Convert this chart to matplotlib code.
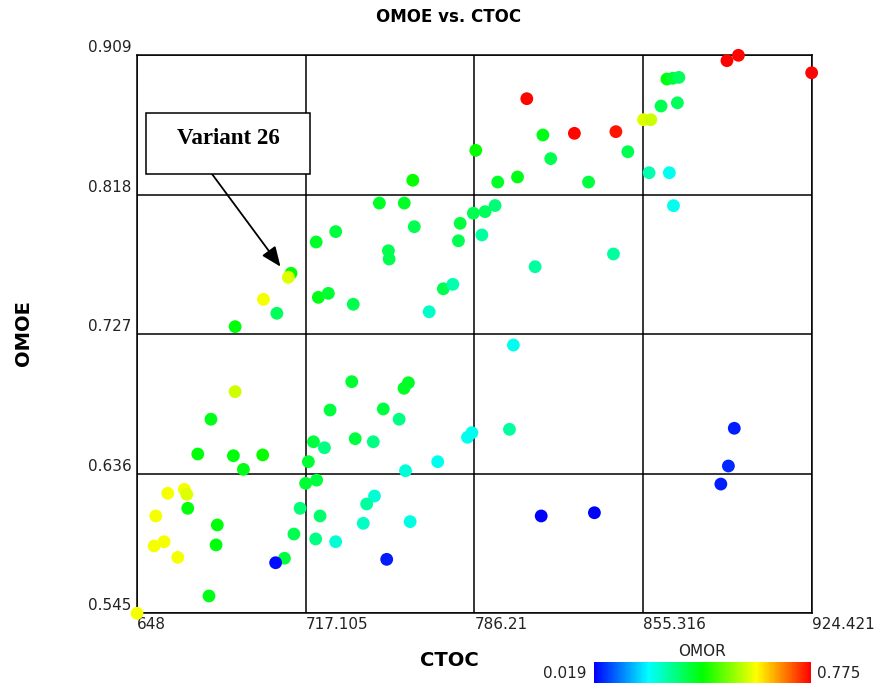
import matplotlib
matplotlib.use("Agg")
import matplotlib.pyplot as plt
import numpy as np
from matplotlib.colors import LinearSegmentedColormap, Normalize
from matplotlib.colorbar import ColorbarBase
from matplotlib.patches import Rectangle

# Design variants: cost (CTOC), effectiveness (OMOE) and risk (OMOR)
ctoc = [
    786.8, 761.0, 747.3, 757.5, 785.8, 790.6, 794.7, 761.6, 780.4, 789.3,
    779.7, 729.4, 721.4, 751.0, 751.3, 711.1, 699.8, 705.3, 688.2, 722.3,
    726.4, 736.6, 773.5, 777.4, 767.7,
    889.7, 894.4, 924.4, 807.7, 865.1, 867.5, 870.0, 862.7, 869.4, 855.5,
    858.5, 814.3, 827.2, 844.2, 849.1, 817.5, 795.8, 803.9, 833.0, 857.8,
    866.1, 867.8, 843.2, 811.1,
    736.0, 759.2, 757.4, 688.2, 678.3, 727.1, 748.9, 755.4, 785.2, 783.4,
    720.3, 724.8, 737.4, 744.8, 771.2, 758.0, 672.9, 687.5, 699.5, 691.6,
    718.2, 717.1, 721.6, 667.4, 668.4, 660.6, 668.8, 655.7, 680.9, 680.4,
    655.0, 659.1, 664.7, 677.5, 648.0, 714.8, 723.0, 745.3, 742.1, 740.7,
    759.9, 712.3, 721.2, 729.4, 708.4, 704.8, 750.3,
    802.2, 800.6, 813.6, 835.4, 892.7, 890.3, 887.2,
    710.0,
]
omoe = [
    0.847, 0.8275, 0.8126, 0.8126, 0.806, 0.807, 0.811, 0.7972, 0.7994, 0.7918,
    0.788, 0.794, 0.7872, 0.7815, 0.7761, 0.7668, 0.7498, 0.7407, 0.732, 0.7511,
    0.7537, 0.7466, 0.7567, 0.7596, 0.7417,
    0.9055, 0.909, 0.8976, 0.8807, 0.8935, 0.894, 0.8946, 0.8759, 0.878, 0.867,
    0.867, 0.857, 0.8581, 0.8592, 0.8461, 0.8416, 0.8263, 0.8296, 0.8263, 0.8324,
    0.8324, 0.8109, 0.7794, 0.7711,
    0.6961, 0.6954, 0.6918, 0.6896, 0.6716, 0.6776, 0.6783, 0.6716, 0.6628, 0.6598,
    0.6569, 0.653, 0.6589, 0.6569, 0.6439, 0.638, 0.6489, 0.6478, 0.6483, 0.6389,
    0.6439, 0.6298, 0.6319, 0.6259, 0.6226, 0.6233, 0.6135, 0.6085, 0.6026, 0.5896,
    0.5889, 0.5917, 0.5815, 0.5563, 0.545, 0.6135, 0.6085, 0.6215, 0.6163, 0.6037,
    0.6048, 0.5967, 0.5935, 0.5917, 0.5809, 0.578, 0.5802,
    0.72, 0.665, 0.6085, 0.6106, 0.6657, 0.6411, 0.6293,
    0.7642,
]
omor = [
    0.40, 0.40, 0.37, 0.37, 0.34, 0.33, 0.31, 0.34, 0.35, 0.28,
    0.34, 0.35, 0.37, 0.34, 0.34, 0.40, 0.58, 0.33, 0.39, 0.38,
    0.36, 0.34, 0.34, 0.27, 0.25,
    0.775, 0.77, 0.77, 0.77, 0.39, 0.36, 0.33, 0.34, 0.33, 0.56,
    0.55, 0.38, 0.77, 0.76, 0.34, 0.34, 0.37, 0.38, 0.35, 0.27,
    0.22, 0.22, 0.28, 0.28,
    0.36, 0.37, 0.37, 0.55, 0.38, 0.35, 0.35, 0.30, 0.22, 0.22,
    0.35, 0.30, 0.35, 0.30, 0.22, 0.24, 0.39, 0.39, 0.40, 0.38,
    0.36, 0.36, 0.35, 0.58, 0.56, 0.58, 0.39, 0.58, 0.39, 0.39,
    0.58, 0.58, 0.58, 0.38, 0.58, 0.31, 0.32, 0.24, 0.28, 0.25,
    0.23, 0.34, 0.30, 0.24, 0.35, 0.03, 0.04,
    0.22, 0.28, 0.02, 0.02, 0.04, 0.05, 0.04,
    0.56,
]
variant_label = "Variant 26"
variant_idx = len(ctoc) - 1

x_ticks = [648, 717.105, 786.21, 855.316, 924.421]
y_ticks = [0.545, 0.636, 0.727, 0.818, 0.909]
omor_min, omor_max = 0.019, 0.775

cmap = LinearSegmentedColormap.from_list(
    "omor", ["#0000ff", "#00ffff", "#00ff00", "#ffff00", "#ff0000"])
norm = Normalize(omor_min, omor_max)

W, H = 884, 683
fig = plt.figure(figsize=(W / 100, H / 100), dpi=100)
ax = fig.add_axes([137 / W, 1 - 613.3 / H, (811.7 - 137) / W, (613.3 - 55.3) / H])

ax.scatter(ctoc, omoe, c=omor, cmap=cmap, norm=norm, s=85,
           edgecolors="none", zorder=3, clip_on=False)

ax.set_xlim(x_ticks[0], x_ticks[-1])
ax.set_ylim(y_ticks[0], y_ticks[-1])
ax.set_xticks(x_ticks)
ax.set_xticklabels([f"{v:g}" for v in x_ticks])
ax.set_yticks(y_ticks)
ax.set_yticklabels([f"{v:.3f}" for v in y_ticks])
ax.tick_params(length=0, labelsize=11, colors="#222222")
ax.tick_params(axis="x", pad=3)
ax.tick_params(axis="y", pad=4)
for lab in ax.get_xticklabels():
    lab.set_horizontalalignment("left")
for lab in ax.get_yticklabels():
    lab.set_verticalalignment("bottom")

ax.grid(True, color="black", linewidth=1.1)
ax.set_axisbelow(True)
for sp in ax.spines.values():
    sp.set_color("black")
    sp.set_linewidth(1.1)

fig.text(449 / W, 1 - 17 / H, "OMOE vs. CTOC", ha="center", va="center",
         fontsize=12, fontweight="bold")
fig.text(449 / W, 1 - 660 / H, "CTOC", ha="center", va="center",
         fontsize=14, fontweight="bold")
fig.text(24 / W, 1 - 333 / H, "OMOE", ha="center", va="center",
         fontsize=14, fontweight="bold", rotation=90)

# Callout for the highlighted variant
fig.add_artist(Rectangle((146 / W, 1 - 174 / H), 164 / W, 61 / H,
                         transform=fig.transFigure, facecolor="white",
                         edgecolor="black", linewidth=1.1))
fig.text(228 / W, 1 - 139 / H, variant_label, ha="center", va="center",
         fontsize=16.5, fontweight="bold", family="Liberation Serif")
ax.annotate("", xy=(ctoc[variant_idx], omoe[variant_idx]), xycoords="data",
            xytext=(212, H - 174), textcoords="figure pixels",
            arrowprops=dict(arrowstyle="-|>,head_length=0.6,head_width=0.25",
                            mutation_scale=20, color="black", lw=1.3,
                            shrinkA=0, shrinkB=9.5),
            zorder=5, annotation_clip=False)

# Colour scale for OMOR
cax = fig.add_axes([594 / W, 0, (811 - 594) / W, 21 / H])
cb = ColorbarBase(cax, cmap=cmap, norm=norm, orientation="horizontal")
cb.outline.set_visible(False)
cax.set_xticks([])
cax.set_yticks([])
fig.text(702 / W, 1 - 651 / H, "OMOR", ha="center", va="center",
         fontsize=11, color="#222222")
fig.text(587 / W, 1 - 673 / H, f"{omor_min:.3f}", ha="right", va="center",
         fontsize=11, color="#222222")
fig.text(817 / W, 1 - 673 / H, f"{omor_max:.3f}", ha="left", va="center",
         fontsize=11, color="#222222")

fig.savefig("out.png", dpi=100)
